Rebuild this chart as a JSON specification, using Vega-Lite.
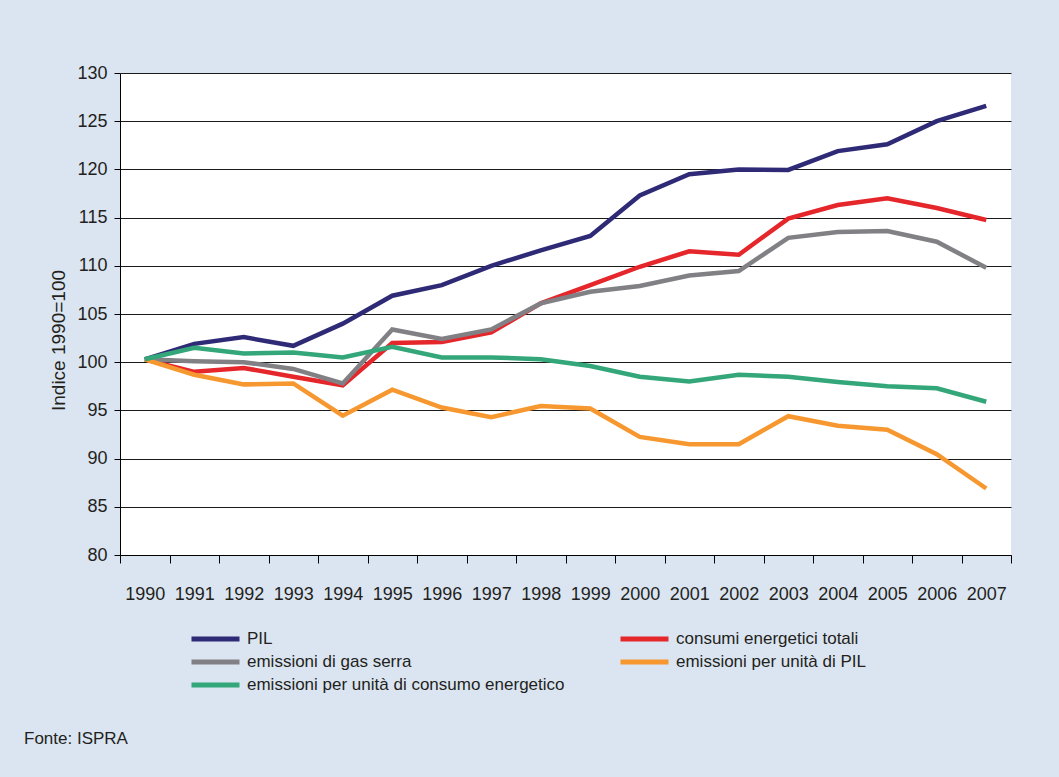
{
  "$schema": "https://vega.github.io/schema/vega-lite/v6.json",
  "width": 891,
  "height": 482,
  "autosize": {"type": "none"},
  "padding": {"left": 120, "top": 73, "right": 48, "bottom": 222},
  "background": "#dbe5f1",
  "config": {
    "view": {"stroke": null, "fill": "#ffffff"},
    "font": "Liberation Sans",
    "axis": {"labelFont": "Liberation Sans", "titleFont": "Liberation Sans", "labelColor": "#231f20", "titleColor": "#231f20", "domainColor": "#000000", "tickColor": "#000000", "domainWidth": 1, "tickWidth": 1},
    "legend": {"labelFont": "Liberation Sans", "labelColor": "#231f20"},
    "title": {"font": "Liberation Sans", "color": "#231f20"}
  },
  "title": {
    "text": "Fonte: ISPRA",
    "orient": "bottom",
    "anchor": "start",
    "frame": "group",
    "dx": -96,
    "offset": 37,
    "fontSize": 17,
    "fontWeight": "normal"
  },
  "data": {
    "values": [
      {"year": "1990", "serie": "PIL", "value": 100.3},
      {"year": "1991", "serie": "PIL", "value": 101.9},
      {"year": "1992", "serie": "PIL", "value": 102.6},
      {"year": "1993", "serie": "PIL", "value": 101.7},
      {"year": "1994", "serie": "PIL", "value": 104.0},
      {"year": "1995", "serie": "PIL", "value": 106.9},
      {"year": "1996", "serie": "PIL", "value": 108.0},
      {"year": "1997", "serie": "PIL", "value": 110.0},
      {"year": "1998", "serie": "PIL", "value": 111.6},
      {"year": "1999", "serie": "PIL", "value": 113.1},
      {"year": "2000", "serie": "PIL", "value": 117.3},
      {"year": "2001", "serie": "PIL", "value": 119.5},
      {"year": "2002", "serie": "PIL", "value": 120.0},
      {"year": "2003", "serie": "PIL", "value": 119.95},
      {"year": "2004", "serie": "PIL", "value": 121.9},
      {"year": "2005", "serie": "PIL", "value": 122.6},
      {"year": "2006", "serie": "PIL", "value": 125.0},
      {"year": "2007", "serie": "PIL", "value": 126.6},
      {"year": "1990", "serie": "consumi energetici totali", "value": 100.3},
      {"year": "1991", "serie": "consumi energetici totali", "value": 99.0},
      {"year": "1992", "serie": "consumi energetici totali", "value": 99.4},
      {"year": "1993", "serie": "consumi energetici totali", "value": 98.5},
      {"year": "1994", "serie": "consumi energetici totali", "value": 97.6},
      {"year": "1995", "serie": "consumi energetici totali", "value": 102.0},
      {"year": "1996", "serie": "consumi energetici totali", "value": 102.1},
      {"year": "1997", "serie": "consumi energetici totali", "value": 103.1},
      {"year": "1998", "serie": "consumi energetici totali", "value": 106.1},
      {"year": "1999", "serie": "consumi energetici totali", "value": 108.0},
      {"year": "2000", "serie": "consumi energetici totali", "value": 109.9},
      {"year": "2001", "serie": "consumi energetici totali", "value": 111.5},
      {"year": "2002", "serie": "consumi energetici totali", "value": 111.15},
      {"year": "2003", "serie": "consumi energetici totali", "value": 114.9},
      {"year": "2004", "serie": "consumi energetici totali", "value": 116.3},
      {"year": "2005", "serie": "consumi energetici totali", "value": 117.0},
      {"year": "2006", "serie": "consumi energetici totali", "value": 116.0},
      {"year": "2007", "serie": "consumi energetici totali", "value": 114.75},
      {"year": "1990", "serie": "emissioni di gas serra", "value": 100.3},
      {"year": "1991", "serie": "emissioni di gas serra", "value": 100.1},
      {"year": "1992", "serie": "emissioni di gas serra", "value": 100.0},
      {"year": "1993", "serie": "emissioni di gas serra", "value": 99.3},
      {"year": "1994", "serie": "emissioni di gas serra", "value": 97.8},
      {"year": "1995", "serie": "emissioni di gas serra", "value": 103.4},
      {"year": "1996", "serie": "emissioni di gas serra", "value": 102.4},
      {"year": "1997", "serie": "emissioni di gas serra", "value": 103.4},
      {"year": "1998", "serie": "emissioni di gas serra", "value": 106.1},
      {"year": "1999", "serie": "emissioni di gas serra", "value": 107.3},
      {"year": "2000", "serie": "emissioni di gas serra", "value": 107.9},
      {"year": "2001", "serie": "emissioni di gas serra", "value": 109.0},
      {"year": "2002", "serie": "emissioni di gas serra", "value": 109.45},
      {"year": "2003", "serie": "emissioni di gas serra", "value": 112.9},
      {"year": "2004", "serie": "emissioni di gas serra", "value": 113.5},
      {"year": "2005", "serie": "emissioni di gas serra", "value": 113.6},
      {"year": "2006", "serie": "emissioni di gas serra", "value": 112.5},
      {"year": "2007", "serie": "emissioni di gas serra", "value": 109.8},
      {"year": "1990", "serie": "emissioni per unità di PIL", "value": 100.3},
      {"year": "1991", "serie": "emissioni per unità di PIL", "value": 98.7},
      {"year": "1992", "serie": "emissioni per unità di PIL", "value": 97.7},
      {"year": "1993", "serie": "emissioni per unità di PIL", "value": 97.8},
      {"year": "1994", "serie": "emissioni per unità di PIL", "value": 94.45},
      {"year": "1995", "serie": "emissioni per unità di PIL", "value": 97.15},
      {"year": "1996", "serie": "emissioni per unità di PIL", "value": 95.3},
      {"year": "1997", "serie": "emissioni per unità di PIL", "value": 94.3},
      {"year": "1998", "serie": "emissioni per unità di PIL", "value": 95.45},
      {"year": "1999", "serie": "emissioni per unità di PIL", "value": 95.2},
      {"year": "2000", "serie": "emissioni per unità di PIL", "value": 92.25},
      {"year": "2001", "serie": "emissioni per unità di PIL", "value": 91.5},
      {"year": "2002", "serie": "emissioni per unità di PIL", "value": 91.5},
      {"year": "2003", "serie": "emissioni per unità di PIL", "value": 94.4},
      {"year": "2004", "serie": "emissioni per unità di PIL", "value": 93.4},
      {"year": "2005", "serie": "emissioni per unità di PIL", "value": 93.0},
      {"year": "2006", "serie": "emissioni per unità di PIL", "value": 90.45},
      {"year": "2007", "serie": "emissioni per unità di PIL", "value": 86.9},
      {"year": "1990", "serie": "emissioni per unità di consumo energetico", "value": 100.3},
      {"year": "1991", "serie": "emissioni per unità di consumo energetico", "value": 101.5},
      {"year": "1992", "serie": "emissioni per unità di consumo energetico", "value": 100.9},
      {"year": "1993", "serie": "emissioni per unità di consumo energetico", "value": 101.0},
      {"year": "1994", "serie": "emissioni per unità di consumo energetico", "value": 100.5},
      {"year": "1995", "serie": "emissioni per unità di consumo energetico", "value": 101.6},
      {"year": "1996", "serie": "emissioni per unità di consumo energetico", "value": 100.5},
      {"year": "1997", "serie": "emissioni per unità di consumo energetico", "value": 100.5},
      {"year": "1998", "serie": "emissioni per unità di consumo energetico", "value": 100.3},
      {"year": "1999", "serie": "emissioni per unità di consumo energetico", "value": 99.6},
      {"year": "2000", "serie": "emissioni per unità di consumo energetico", "value": 98.5},
      {"year": "2001", "serie": "emissioni per unità di consumo energetico", "value": 98.0},
      {"year": "2002", "serie": "emissioni per unità di consumo energetico", "value": 98.7},
      {"year": "2003", "serie": "emissioni per unità di consumo energetico", "value": 98.5},
      {"year": "2004", "serie": "emissioni per unità di consumo energetico", "value": 97.95},
      {"year": "2005", "serie": "emissioni per unità di consumo energetico", "value": 97.5},
      {"year": "2006", "serie": "emissioni per unità di consumo energetico", "value": 97.3},
      {"year": "2007", "serie": "emissioni per unità di consumo energetico", "value": 95.9}
    ]
  },
  "mark": {"type": "line", "strokeWidth": 4.5, "strokeJoin": "miter", "strokeCap": "butt"},
  "encoding": {
    "x": {
      "field": "year",
      "type": "ordinal",
      "scale": {"type": "band", "paddingInner": 0, "paddingOuter": 0},
      "axis": {
        "title": null,
        "labelAngle": 0,
        "labelFontSize": 18,
        "labelPadding": 22,
        "tickBand": "extent",
        "tickSize": 8,
        "grid": false
      }
    },
    "y": {
      "field": "value",
      "type": "quantitative",
      "scale": {"domain": [80, 130], "nice": false, "zero": false},
      "axis": {
        "title": "Indice 1990=100",
        "titleFontSize": 19,
        "titleFontWeight": "normal",
        "titleAngle": -90,
        "titleAlign": "center",
        "titleBaseline": "middle",
        "titleX": -62,
        "titleY": 267,
        "values": [80, 85, 90, 95, 100, 105, 110, 115, 120, 125, 130],
        "labelFontSize": 18,
        "labelPadding": 7,
        "tickSize": 6,
        "grid": true,
        "gridColor": "#1a1a1a",
        "gridWidth": 1
      }
    },
    "color": {
      "field": "serie",
      "type": "nominal",
      "scale": {
        "domain": ["PIL", "consumi energetici totali", "emissioni di gas serra", "emissioni per unità di PIL", "emissioni per unità di consumo energetico"],
        "range": ["#2f2a76", "#e5262a", "#818185", "#f6982f", "#33a67a"]
      },
      "legend": {
        "title": null,
        "orient": "none",
        "direction": "horizontal",
        "legendX": 69,
        "legendY": 557,
        "columns": 2,
        "columnPadding": 53,
        "rowPadding": 5,
        "clipHeight": 18,
        "padding": 0,
        "symbolType": "stroke",
        "symbolSize": 2304,
        "symbolStrokeWidth": 5,
        "labelFontSize": 17,
        "labelOffset": 5,
        "labelLimit": 500
      }
    }
  }
}
